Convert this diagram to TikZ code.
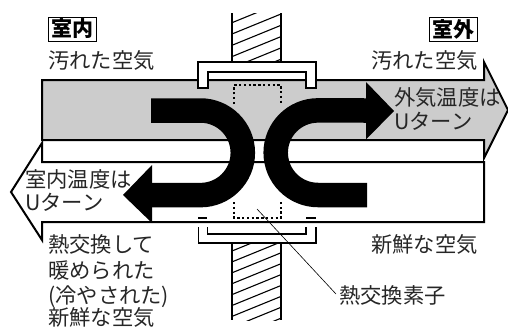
\documentclass[tikz,border=0pt]{standalone}
\usepackage{fontspec}
\setmainfont{Noto Sans CJK JP}
\usetikzlibrary{positioning}
\definecolor{ductgray}{HTML}{CCCCCC}
\begin{document}
\begin{tikzpicture}[x=1pt,y=-1pt,
                duct/.style={draw=black,line width=2pt,miter limit=10},
                wall/.style={draw=black,line width=1.1pt},
                frame/.style={draw=black,fill=white,line width=1.8pt},
                flow/.style={draw=black,line width=24.5pt},
                head/.style={fill=black},
                core/.style={draw=black,line width=2pt,dash pattern=on 2.4pt off 2.4pt},
                lbl/.style={anchor=west,inner sep=0pt,text height=18pt,text depth=3pt,font=\fontsize{21.3}{21.3}\selectfont,text=black!85},
                tag/.style={draw=black,line width=0.9pt,inner sep=0pt,minimum width=48pt,minimum height=24pt,font=\fontsize{21}{21}\selectfont\bfseries}]
    \useasboundingbox (0,0) rectangle (508,330);
    % wall
    \begin{scope}
        \clip (232,13) rectangle (281,62);
        \foreach \y in {0,...,5}
            \draw[wall] (232,{22.7+11.3*\y}) -- (281,{2.7+11.3*\y});
    \end{scope}
    \begin{scope}
        \clip (232,243) rectangle (281,320);
        \foreach \y in {0,...,8}
            \draw[wall] (232,{251+10.9*\y}) -- (281,{231+10.9*\y});
    \end{scope}
    \draw[wall,line width=1.8pt] (232,13) -- (232,62) (281,13) -- (281,62);
    \draw[wall,line width=1.8pt] (232,243) -- (232,320) (281,243) -- (281,320);
    % ducts
    \draw[duct,fill=ductgray] (42,80) -- (484,80) -- (484,62) -- (508,110)
        -- (484,158) -- (484,140) -- (42,140) -- cycle;
    \draw[duct,fill=white] (484,162) -- (484,222) -- (42,222) -- (42,240)
        -- (11,192) -- (42,143) -- (42,162) -- cycle;
    % element
    \draw[core] (234,104) -- (234,85) -- (281,85) -- (281,104);
    \draw[core] (234,202) -- (234,218) -- (281,218) -- (281,202);
    % brackets
    \draw[frame] (198,88) -- (198,62) -- (316,62) -- (316,88) -- (306,88)
        -- (306,72) -- (208,72) -- (208,88) -- cycle;
    \draw[frame,fill=none] (198.5,227) -- (198.5,243) -- (316,243) -- (316,227);
    \draw[frame,fill=none] (207.5,227) -- (207.5,234) -- (306,234) -- (306,227);
    \draw[frame] (198,218) -- (207,218) (306,218) -- (316,218);
    % flows
    \draw[flow] (151,110.5) -- (200.5,110.5) arc[start angle=90,end angle=-90,radius=42.3pt] -- (152,195);
    \fill[head] (152,165) -- (152,223) -- (123,195) -- cycle;
    \draw[flow] (367,195) -- (318,195) arc[start angle=270,end angle=90,radius=42.3pt] -- (366,110.5);
    \fill[head] (366,82) -- (394,111) -- (366,139.5) -- cycle;
    % labels
    \node[tag] (room) at (72,29) {室内};
    \node[tag] (outside) at (453,29) {室外};
    \node[lbl] (dirtyin) at (48,61) {汚れた空気};
    \node[lbl] (dirtyout) at (371,61) {汚れた空気};
    \node[lbl] (tempout) at (394,98) {外気温度は};
    \node[lbl] (turnout) at (394,122) {Uターン};
    \node[lbl] (tempin) at (25,180) {室内温度は};
    \node[lbl] (turnin) at (25,203) {Uターン};
    \node[lbl] (warm) at (48,245) {熱交換して};
    \node[lbl] (warmb) at (48,271) {暖められた};
    \node[lbl] (warmc) at (48,296) {(冷やされた)};
    \node[lbl] (warmd) at (48,318) {新鮮な空気};
    \node[lbl] (fresh) at (371,245) {新鮮な空気};
    \node[lbl] (element) at (339,296) {熱交換素子};
    \coordinate (corept) at (257,209);
    \draw[line width=0.6pt] (corept) -- ([xshift=-3pt,yshift=2pt]element.west);
\end{tikzpicture}
\end{document}
